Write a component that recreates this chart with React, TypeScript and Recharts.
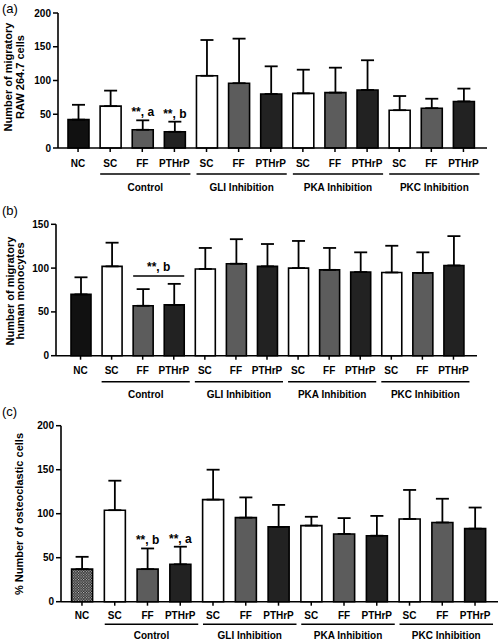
import React from 'react';
import { BarChart, Bar, XAxis, YAxis, ErrorBar, Cell, LabelList } from 'recharts';

// ---------- data ----------
const categories = ['NC', 'SC', 'FF', 'PTHrP', 'SC', 'FF', 'PTHrP', 'SC', 'FF', 'PTHrP', 'SC', 'FF', 'PTHrP'];
const groups = ['', 'Control', 'Control', 'Control', 'GLI Inhibition', 'GLI Inhibition', 'GLI Inhibition',
  'PKA Inhibition', 'PKA Inhibition', 'PKA Inhibition', 'PKC Inhibition', 'PKC Inhibition', 'PKC Inhibition'];

const meanA = [42, 62, 27, 24, 107, 96, 80, 81, 82, 86, 56, 59, 69];
const sdA = [22, 23, 14, 15, 53, 66, 41, 35, 37, 44, 21, 14, 19];
const noteA = ['', '', '**, a', '**, b', '', '', '', '', '', '', '', '', ''];
const ticksA = [0, 50, 100, 150, 200];
const yLabelA = ['Number of migratory', 'RAW 264.7 cells'];

const meanB = [70, 102, 57, 58, 99, 105, 102, 100, 98, 95.5, 95, 94.5, 103];
const sdB = [19.5, 27, 19, 24, 24, 28, 25.5, 31, 25, 22.5, 30.5, 23.5, 33.5];
const noteB = ['', '', '**, b', '', '', '', '', '', '', '', '', '', ''];
const bracketB = 91;
const ticksB = [0, 50, 100, 150];
const yLabelB = ['Number of migratory', 'human monocytes'];

const meanC = [37, 104, 37, 42.5, 116, 95.5, 85, 86.5, 77, 75, 94, 90, 83];
const sdC = [14, 33.5, 23.5, 20, 34, 23, 25, 10, 18, 22.5, 33, 27, 24];
const noteC = ['', '', '**, b', '**, a', '', '', '', '', '', '', '', '', ''];
const ticksC = [0, 50, 100, 150, 200];
const yLabelC = ['% Number of osteoclastic cells'];

// ---------- styles ----------
const FONT = '"Liberation Sans", Arial, Helvetica, sans-serif';
const TICK_SIZE = 4;
const TICK_MARGIN = 2;
const fillFor: Record<string, string> = { NC: '#111111', SC: '#ffffff', FF: '#5c5c5c', PTHrP: '#222222' };

type Cfg = {
  top: number; height: number; mTop: number; mRight: number; yWidth: number; xHeight: number;
  padL: number; padR: number; barSize: number; max: number;
  lab: number; line: number; grp: number; lineStart: number; lineEnd: number;
  ncFill?: string;
};

const cfgA: Cfg = { top: 0, height: 200, mTop: 13, mRight: 13, yWidth: 58, xHeight: 52, padL: 4, padR: 7.5, barSize: 21, max: 200,
  lab: 15, line: 26, grp: 39, lineStart: -10, lineEnd: 16 };
const cfgB: Cfg = { top: 200, height: 210, mTop: 24.3, mRight: 23, yWidth: 56, xHeight: 54.3, padL: 9, padR: 8, barSize: 20, max: 150,
  lab: 15, line: 26, grp: 39, lineStart: -10, lineEnd: 16 };
const cfgC: Cfg = { top: 410, height: 231, mTop: 15.7, mRight: 2, yWidth: 61, xHeight: 39.3, padL: 4.6, padR: 6.6, barSize: 21, max: 200,
  lab: 13.3, line: 22.6, grp: 34, lineStart: -10, lineEnd: 18, ncFill: 'url(#checker)' };

const W = 500;
const bandOf = (c: Cfg) => (W - c.mRight - c.yWidth - c.padL - c.padR) / categories.length;

const isGroupMiddle = (i: number) =>
  i > 0 && i < groups.length - 1 && groups[i] !== '' && groups[i - 1] === groups[i] && groups[i + 1] === groups[i];

const makeTick = (c: Cfg) => (props: any) => {
  const { x, y, payload } = props;
  const i: number = props.index ?? payload.index;
  const axisY = y - TICK_SIZE - TICK_MARGIN;
  const band = bandOf(c);
  const txt = { fontFamily: FONT, fontWeight: 700, fontSize: 10, fill: '#000' } as const;
  const x1 = x - band + c.lineStart;
  const x2 = x + band + c.lineEnd;
  return (
    <g>
      <text x={x} y={axisY + c.lab} textAnchor="middle" dominantBaseline="central" {...txt}>{categories[i]}</text>
      {isGroupMiddle(i) && (
        <g>
          <line x1={x1} x2={x2} y1={axisY + c.line} y2={axisY + c.line} stroke="#000" strokeWidth={1.5} />
          <text x={(x1 + x2) / 2} y={axisY + c.grp} textAnchor="middle" dominantBaseline="central" {...txt}>{groups[i]}</text>
        </g>
      )}
    </g>
  );
};

const noteContent = (means: number[], sds: number[], notes: string[]) => (p: any) => {
  const { x, y, width, height, index } = p;
  const note = notes[index];
  if (!note) return null;
  const pxPer = height / means[index];
  const top = y - sds[index] * pxPer;
  return (
    <text x={x + width / 2} y={top - 8} textAnchor="middle" dominantBaseline="central"
      fontFamily={FONT} fontWeight={700} fontSize={12} fill="#000">{note}</text>
  );
};

const bracketContent = (c: Cfg) => (p: any) => {
  const { x, y, width, height, index } = p;
  const note = noteB[index];
  if (!note) return null;
  const pxPer = height / meanB[index];
  const ly = y + height - bracketB * pxPer;
  const band = bandOf(c);
  const xe = x + width + band;
  return (
    <g>
      <line x1={x} x2={xe} y1={ly} y2={ly} stroke="#000" strokeWidth={1.6} />
      <text x={(x + xe) / 2} y={ly - 9} textAnchor="middle" dominantBaseline="central"
        fontFamily={FONT} fontWeight={700} fontSize={12} fill="#000">{note}</text>
    </g>
  );
};

const buildData = (means: number[], sds: number[], notes: string[]) =>
  categories.map((cat, i) => ({ id: `${groups[i]}-${cat}-${i}`, cat, value: means[i], err: [0, sds[i]], note: notes[i] }));

function Panel({ c, means, sds, notes, ticks, bracket }: { c: Cfg; means: number[]; sds: number[]; notes: string[]; ticks: number[]; bracket?: boolean }) {
  const data = buildData(means, sds, notes);
  return (
    <div style={{ position: 'absolute', left: 0, top: c.top, width: W, height: c.height }}>
      <BarChart width={W} height={c.height} data={data} margin={{ top: c.mTop, right: c.mRight, bottom: 0, left: 0 }}>
        <defs>
          <pattern id="checker" width="2.6" height="2.6" patternUnits="userSpaceOnUse">
            <rect x="0" y="0" width="2.6" height="2.6" fill="#1c1c1c" />
            <rect x="0" y="0" width="1.1" height="1.1" fill="#d8d8d8" />
            <rect x="1.3" y="1.3" width="1.1" height="1.1" fill="#d8d8d8" />
          </pattern>
        </defs>
        <XAxis dataKey="id" type="category" interval={0} height={c.xHeight} padding={{ left: c.padL, right: c.padR }}
          axisLine={{ stroke: '#000', strokeWidth: 1.6 }} tickLine={{ stroke: '#000', strokeWidth: 1.5 }}
          tickSize={TICK_SIZE} tickMargin={TICK_MARGIN} tick={makeTick(c)} />
        <YAxis domain={[0, c.max]} ticks={ticks} width={c.yWidth} interval={0}
          axisLine={{ stroke: '#000', strokeWidth: 1.6 }} tickLine={{ stroke: '#000', strokeWidth: 1.5 }}
          tickSize={5} tickMargin={2}
          tick={{ fill: '#000', fontSize: 10, fontWeight: 700, fontFamily: FONT }} />
        <Bar dataKey="value" barSize={c.barSize} stroke="#000" strokeWidth={1.6} isAnimationActive={false}>
          {data.map((d, i) => (
            <Cell key={i} fill={i === 0 && c.ncFill ? c.ncFill : fillFor[d.cat]} />
          ))}
          <ErrorBar dataKey="err" direction="y" width={6.5} stroke="#000" strokeWidth={1.8} />
          <LabelList dataKey="note" content={bracket ? bracketContent(c) : noteContent(means, sds, notes)} />
        </Bar>
      </BarChart>
    </div>
  );
}

export default function App() {
  const lab = { fontFamily: FONT, fontWeight: 700, fontSize: 11, fill: '#000' } as const;
  const letter = { fontFamily: FONT, fontSize: 13, fill: '#000' } as const;
  const rot = (x: number, y: number, s: string, k: number) => (
    <text key={k} x={x} y={y} transform={`rotate(-90 ${x} ${y})`} textAnchor="middle" dominantBaseline="central" {...lab}>{s}</text>
  );
  return (
    <div style={{ position: 'absolute', left: 0, top: 0, width: 500, height: 641, background: '#fff', overflow: 'hidden' }}>
      <Panel c={cfgA} means={meanA} sds={sdA} notes={noteA} ticks={ticksA} />
      <Panel c={cfgB} means={meanB} sds={sdB} notes={noteB} ticks={ticksB} bracket />
      <Panel c={cfgC} means={meanC} sds={sdC} notes={noteC} ticks={ticksC} />
      <svg width={500} height={641} style={{ position: 'absolute', left: 0, top: 0, pointerEvents: 'none' }}>
        <text x={2} y={8} dominantBaseline="central" {...letter}>(a)</text>
        <text x={2} y={210} dominantBaseline="central" {...letter}>(b)</text>
        <text x={2} y={411} dominantBaseline="central" {...letter}>(c)</text>
        {yLabelA.map((s, k) => rot(8 + k * 11.5, 77, s, k))}
        {yLabelB.map((s, k) => rot(10 + k * 10, 291, s, k))}
        {yLabelC.map((s, k) => rot(19, 514, s, k))}
      </svg>
    </div>
  );
}
